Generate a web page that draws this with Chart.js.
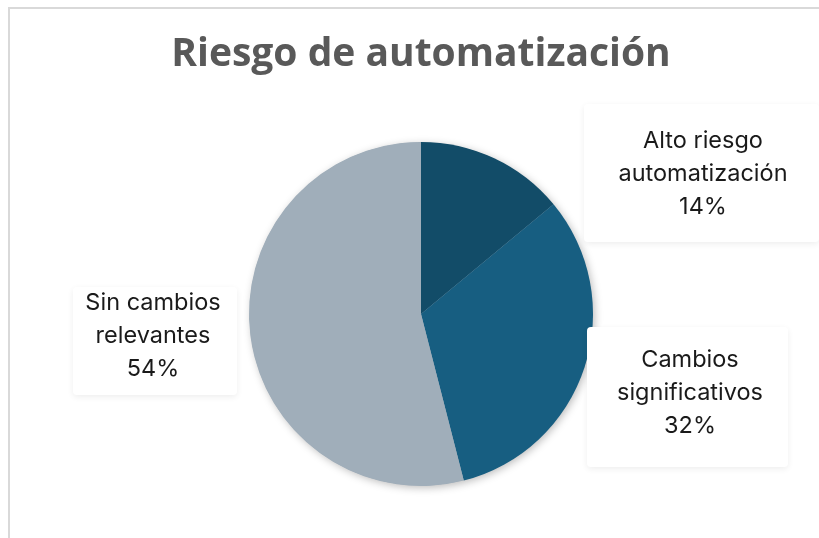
<!DOCTYPE html>
<html><head><meta charset="utf-8">
<script src="https://cdn.jsdelivr.net/npm/chart.js@4/dist/chart.umd.min.js"></script>
<style>html,body{margin:0;padding:0;background:#fff;overflow:hidden}#wrap{width:819px;height:538px;position:relative}</style>
</head><body><div id="wrap"><canvas id="c" width="819" height="538"></canvas></div>
<script>
const categories = [["Alto riesgo", "automatización"], ["Cambios", "significativos"], ["Sin cambios", "relevantes"]];
const values = [14, 32, 54];
const colors = ["#124C68", "#175E81", "#A0AEBA"];
const titleText = "Riesgo de automatización";

// label placement relative to pie centre (px): text centre x, first baseline y, box [l,t,r,b]
const labelPlace = [
  {dx: 282, dy: -166, box: [-119, -44, 116, 94]},
  {dx: 269, dy: 53, box: [-103, -40, 98, 100]},
  {dx: -268, dy: -4, box: [-80, -23, 84, 85]}
];

const framePlugin = {
  id: 'frame',
  beforeDraw(chart) {
    const ctx = chart.ctx;
    ctx.save();
    ctx.strokeStyle = '#d9d9d9';
    ctx.lineWidth = 2;
    ctx.strokeRect(9, 8, 1000, 1000);
    ctx.restore();
  },
  beforeDatasetsDraw(chart) {
    const arc = chart.getDatasetMeta(0).data[0];
    if (!arc) return;
    const ctx = chart.ctx;
    ctx.save();
    ctx.shadowColor = 'rgba(0,0,0,0.28)';
    ctx.shadowBlur = 8;
    ctx.shadowOffsetX = 2;
    ctx.shadowOffsetY = 2;
    ctx.fillStyle = '#A0AEBA';
    ctx.beginPath();
    ctx.arc(arc.x, arc.y, arc.outerRadius - 0.5, 0, Math.PI * 2);
    ctx.fill();
    ctx.restore();
  },
  afterDraw(chart) {
    const meta = chart.getDatasetMeta(0);
    const ctx = chart.ctx;
    const total = values.reduce((a, b) => a + b, 0);
    meta.data.forEach((arc, i) => {
      const p = labelPlace[i];
      const x = arc.x + p.dx, y = arc.y + p.dy;
      ctx.save();
      ctx.shadowColor = 'rgba(0,0,0,0.07)';
      ctx.shadowBlur = 6;
      ctx.shadowOffsetX = 0;
      ctx.shadowOffsetY = 2;
      ctx.fillStyle = '#ffffff';
      ctx.beginPath();
      ctx.roundRect(x + p.box[0], y + p.box[1], p.box[2] - p.box[0], p.box[3] - p.box[1], 4);
      ctx.fill();
      ctx.restore();
      ctx.save();
      ctx.fillStyle = '#1a1a1a';
      ctx.font = '23.5px Inter, sans-serif';
      ctx.textAlign = 'center';
      ctx.textBaseline = 'alphabetic';
      const lines = categories[i].concat([Math.round(values[i] / total * 100) + '%']);
      lines.forEach((t, k) => ctx.fillText(t, x, y + k * 33));
      ctx.restore();
    });
  }
};

new Chart(document.getElementById('c'), {
  type: 'pie',
  data: {
    labels: categories.map(c => c.join(' ')),
    datasets: [{data: values, backgroundColor: colors, borderWidth: 0, hoverOffset: 0}]
  },
  options: {
    responsive: false,
    animation: false,
    events: [],
    layout: {padding: {left: 23, right: 0, top: 0, bottom: 52}},
    plugins: {
      legend: {display: false},
      tooltip: {enabled: false},
      title: {
        display: true,
        text: titleText,
        color: '#595959',
        font: {family: '"Open Sans", sans-serif', size: 39, weight: 'bold', lineHeight: 1.2},
        padding: {top: 31, bottom: 64.2}
      }
    }
  },
  plugins: [framePlugin]
});
</script></body></html>
